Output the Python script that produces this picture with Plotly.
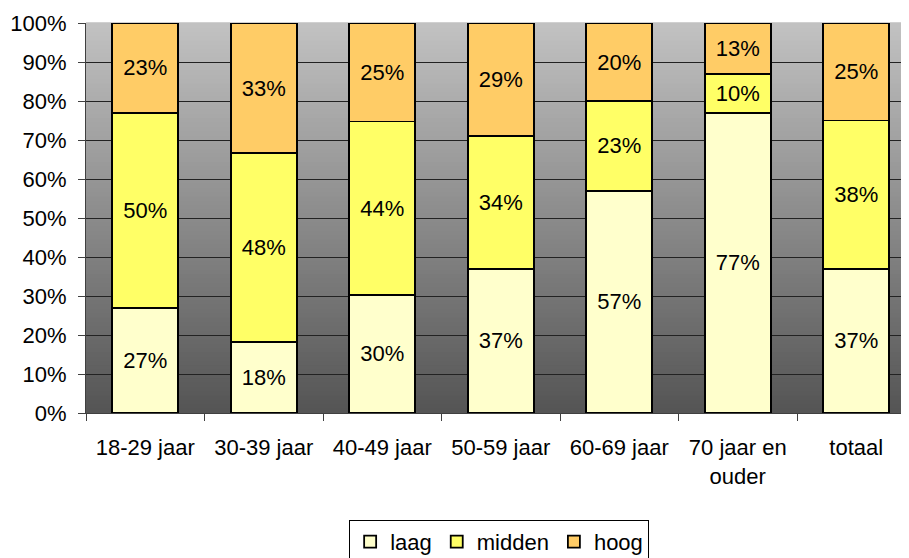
import plotly.graph_objects as go

categories = ["18-29 jaar", "30-39 jaar", "40-49 jaar", "50-59 jaar", "60-69 jaar", "70 jaar en<br>ouder", "totaal"]
laag = [27, 18, 30, 37, 57, 77, 37]
midden = [50, 48, 44, 34, 23, 10, 38]
hoog = [23, 33, 25, 29, 20, 13, 25]
y_ticks = [0, 10, 20, 30, 40, 50, 60, 70, 80, 90, 100]
y_tick_labels = [f"{v}%" for v in y_ticks]

series = [("laag", laag, "#FFFFCC"), ("midden", midden, "#FFFF66"), ("hoog", hoog, "#FFCC66")]

FONT = "Liberation Sans, Arial, sans-serif"
FS = 22

fig = go.Figure()
for name, vals, col in series:
    fig.add_trace(go.Bar(
        x=categories, y=vals, name=name, text=vals,
        texttemplate="%{text}%", textposition="inside", insidetextanchor="middle",
        constraintext="none",
        textfont=dict(family=FONT, size=FS, color="black"),
        marker=dict(color=col, line=dict(color="black", width=1.8)),
    ))

# gradient background strips (decoration)
N = 90
top = (194, 194, 194)
bot = (84, 84, 84)
shapes = []
for i in range(N):
    t = (i + 0.5) / N
    c = tuple(round(bot[k] + (top[k] - bot[k]) * t) for k in range(3))
    shapes.append(dict(type="rect", xref="paper", yref="paper", x0=0, x1=1,
                       y0=i / N, y1=(i + 1) / N + 0.002, layer="below",
                       line=dict(width=0), fillcolor="rgb(%d,%d,%d)" % c))

# the page body has an 8px default margin, so the figure is offset by (8, 8)
fig.update_layout(
    barmode="stack", barnorm="percent", bargap=0.443,
    width=909, height=558,
    margin=dict(l=78, r=8, t=15, b=153, autoexpand=False),
    paper_bgcolor="white", plot_bgcolor="#888888",
    font=dict(family=FONT, size=FS, color="black"),
    shapes=shapes,
    showlegend=True,
    legend=dict(orientation="h", x=0.502, xanchor="center", y=-0.274, yanchor="top",
                bordercolor="black", borderwidth=1, bgcolor="white",
                font=dict(family=FONT, size=FS), traceorder="normal",
                itemwidth=30, tracegroupgap=0),
    uniformtext=dict(minsize=FS, mode="show"),
)
fig.update_xaxes(range=[-0.5, 6.445], tickson="boundaries", ticks="outside", ticklen=7,
                 tickcolor="#404040", showline=True, linecolor="#404040", linewidth=1,
                 showgrid=False, tickfont=dict(family=FONT, size=FS), ticklabelstandoff=15,
                 automargin=False)
fig.update_yaxes(range=[0, 100], tickvals=y_ticks, ticktext=y_tick_labels,
                 ticks="outside", ticklen=7, tickcolor="#404040",
                 showline=True, linecolor="#404040", linewidth=1,
                 showgrid=True, gridcolor="#222222", gridwidth=1, zeroline=False,
                 tickfont=dict(family=FONT, size=FS), ticklabelstandoff=7,
                 automargin=False)

fig.write_html("out.html")
